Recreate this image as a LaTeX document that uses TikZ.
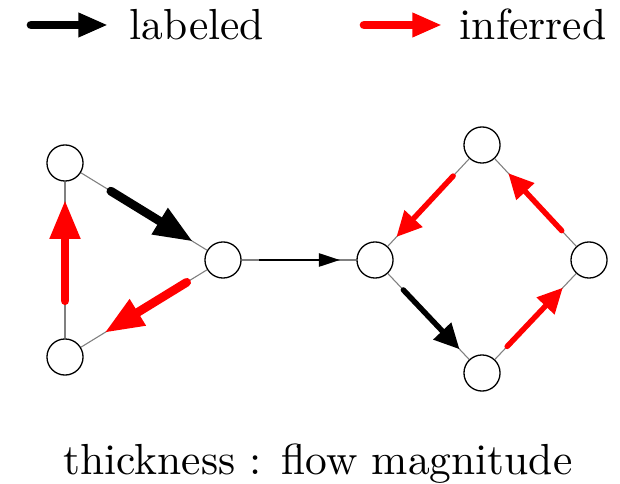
\documentclass[tikz,border=0pt]{standalone}
\usepackage{tikz}
\usetikzlibrary{arrows.meta, calc}

\begin{document}
\begin{tikzpicture}[x=0.23pt, y=-0.23pt,
        vertex/.style={circle, draw, line width=0.3pt, minimum size=8.3pt, inner sep=0pt},
        edge/.style={gray, line width=0.25pt},
        bigflow/.style={line width=2pt, line cap=round, -{Triangle[length=9pt, width=6.6pt]}},
        flow/.style={line width=1.25pt, line cap=round, -{Triangle[length=5.8pt, width=5.4pt]}},
        thinflow/.style={line width=0.6pt, -{Triangle[length=4.9pt, width=3pt]}},
        caption/.style={inner sep=0pt}]
        \useasboundingbox (0,0) rectangle (620,483);

        % legend
        \coordinate (k1) at (31,25);
        \coordinate (k2) at (108,25);
        \coordinate (k3) at (364,25);
        \coordinate (k4) at (442,25);
        \draw[bigflow, -{Triangle[length=6.8pt, width=5.2pt]}] (k1) -- (k2);
        \draw[bigflow, red, -{Triangle[length=6.8pt, width=5.2pt]}] (k3) -- (k4);
        \node[caption, anchor=base west] (lab) at (129,40) {labeled};
        \node[caption, anchor=base west] (inf) at (459,40) {inferred};

        % triangle
        \node[vertex] (a) at (65,163) {};
        \node[vertex] (b) at (65,357) {};
        \node[vertex] (c) at (223,260) {};
        % diamond
        \node[vertex] (d) at (375,260) {};
        \node[vertex] (e) at (482,145) {};
        \node[vertex] (f) at (589,260) {};
        \node[vertex] (g) at (482,373) {};

        \draw[edge] (a) -- (c);
        \draw[edge] (c) -- (b);
        \draw[edge] (b) -- (a);
        \draw[edge] (c) -- (d);
        \draw[edge] (d) -- (e);
        \draw[edge] (e) -- (f);
        \draw[edge] (f) -- (g);
        \draw[edge] (g) -- (d);

        % flows
        \draw[bigflow] ($(a)!0.29!(c)$) -- ($(a)!0.81!(c)$);
        \draw[bigflow, red] ($(c)!0.23!(b)$) -- ($(c)!0.75!(b)$);
        \draw[bigflow, red] ($(b)!0.29!(a)$) -- ($(b)!0.81!(a)$);
        \draw[thinflow] ($(c)!0.24!(d)$) -- ($(c)!0.77!(d)$);
        \draw[flow, red] ($(e)!0.27!(d)$) -- ($(e)!0.80!(d)$);
        \draw[flow] ($(d)!0.265!(g)$) -- ($(d)!0.79!(g)$);
        \draw[flow, red] ($(g)!0.235!(f)$) -- ($(g)!0.755!(f)$);
        \draw[flow, red] ($(f)!0.255!(e)$) -- ($(f)!0.755!(e)$);

        \node[caption, anchor=base] (cap) at (318,474) {thickness : flow magnitude};
\end{tikzpicture}
\end{document}
